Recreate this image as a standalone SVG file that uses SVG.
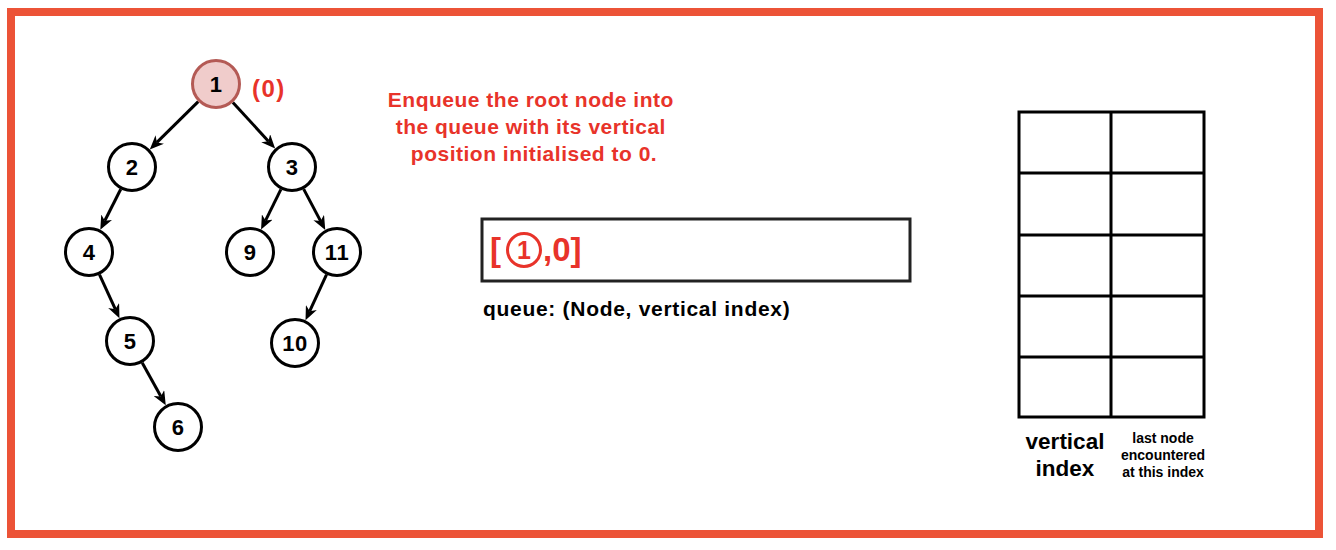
<svg xmlns="http://www.w3.org/2000/svg" width="1336" height="550" viewBox="0 0 1336 550">
<style>
.node circle{fill:#fff;stroke:#000;stroke-width:3}
.node text{font-family:"Liberation Sans",Arial,sans-serif;font-weight:bold;font-size:22px;fill:#000;text-anchor:middle;dominant-baseline:central;letter-spacing:0.5px}
.edge{stroke:#000;stroke-width:3;fill:none;marker-end:url(#arr)}
.red{font-family:"Liberation Sans",Arial,sans-serif;font-weight:bold;fill:#e8332a}
.blk{font-family:"Liberation Sans",Arial,sans-serif;font-weight:bold;fill:#000}
.cell{fill:none;stroke:#000;stroke-width:3}
</style>
<defs>
<marker id="arr" markerUnits="userSpaceOnUse" markerWidth="14" markerHeight="12" viewBox="0 0 14 12" refX="4" refY="6" orient="auto">
<path d="M0,0 L14,6 L0,12 L4,6 Z" fill="#000"/>
</marker>
</defs>
<rect x="0" y="0" width="1336" height="550" fill="#fff"/>
<rect x="11" y="12" width="1308" height="522" fill="#fff" stroke="#ec5337" stroke-width="8"/>

<g id="connectors">
<line class="edge" x1="198.2" y1="101.6" x2="156.9" y2="142.4"/>
<line class="edge" x1="232.9" y1="102.4" x2="268.4" y2="141.2"/>
<line class="edge" x1="120.7" y1="189.3" x2="104.8" y2="220.8"/>
<line class="edge" x1="280.9" y1="189.4" x2="265.5" y2="220.6"/>
<line class="edge" x1="303.7" y1="189.1" x2="320.6" y2="221.1"/>
<line class="edge" x1="99.5" y1="274.7" x2="115.3" y2="309.2"/>
<line class="edge" x1="142.2" y1="362.8" x2="160.9" y2="396.5"/>
<line class="edge" x1="326.5" y1="274.7" x2="309.7" y2="311.2"/>
</g>

<g id="n1" class="node"><circle cx="216" cy="84" r="23.5" style="fill:#f0cccb;stroke:#b45a55"/><text x="216" y="84">1</text></g>
<g id="n2" class="node"><circle cx="132" cy="167" r="23.5"/><text x="132" y="167">2</text></g>
<g id="n3" class="node"><circle cx="292" cy="167" r="23.5"/><text x="292" y="167">3</text></g>
<g id="n4" class="node"><circle cx="89" cy="252" r="23.5"/><text x="89" y="252">4</text></g>
<g id="n9" class="node"><circle cx="250" cy="252" r="23.5"/><text x="250" y="252">9</text></g>
<g id="n11" class="node"><circle cx="337" cy="252" r="23.5"/><text x="337" y="252">11</text></g>
<g id="n5" class="node"><circle cx="130" cy="341" r="23.5"/><text x="130" y="341">5</text></g>
<g id="n10" class="node"><circle cx="295" cy="343" r="23.5"/><text x="295" y="343">10</text></g>
<g id="n6" class="node"><circle cx="178" cy="427" r="23.5"/><text x="178" y="427">6</text></g>

<g id="rootlabel"><text class="red" x="252" y="97" font-size="24" letter-spacing="1.5">(0)</text></g>

<g id="caption">
<text class="red" font-size="21" text-anchor="middle" letter-spacing="0.5">
<tspan x="534" y="107">Enqueue the root node into</tspan>
<tspan x="534" y="134">the queue with its vertical</tspan>
<tspan x="534" y="161">position initialised to 0.</tspan>
</text>
</g>

<g id="queue">
<rect x="482" y="219" width="428" height="62" fill="#fff" stroke="#222" stroke-width="3"/>
<text class="red" x="490" y="261" font-size="33">[</text>
<circle cx="524" cy="250" r="16.5" fill="none" stroke="#e8332a" stroke-width="3"/>
<text class="red" x="524" y="259" font-size="25" text-anchor="middle">1</text>
<text class="red" x="543" y="261" font-size="33">,0]</text>
<text class="blk" x="483" y="316" font-size="21" letter-spacing="0.7">queue: (Node, vertical index)</text>
</g>

<g id="table">
<rect class="cell" x="1019" y="112" width="185" height="305"/>
<line class="cell" x1="1111" y1="112" x2="1111" y2="417"/>
<line class="cell" x1="1019" y1="173" x2="1204" y2="173"/>
<line class="cell" x1="1019" y1="235" x2="1204" y2="235"/>
<line class="cell" x1="1019" y1="296" x2="1204" y2="296"/>
<line class="cell" x1="1019" y1="357" x2="1204" y2="357"/>
<text class="blk" font-size="22.5" text-anchor="middle"><tspan x="1065" y="449">vertical</tspan><tspan x="1065" y="476">index</tspan></text>
<text class="blk" font-size="14" text-anchor="middle"><tspan x="1163" y="443">last node</tspan><tspan x="1163" y="460">encountered</tspan><tspan x="1163" y="477">at this index</tspan></text>
</g>
</svg>
